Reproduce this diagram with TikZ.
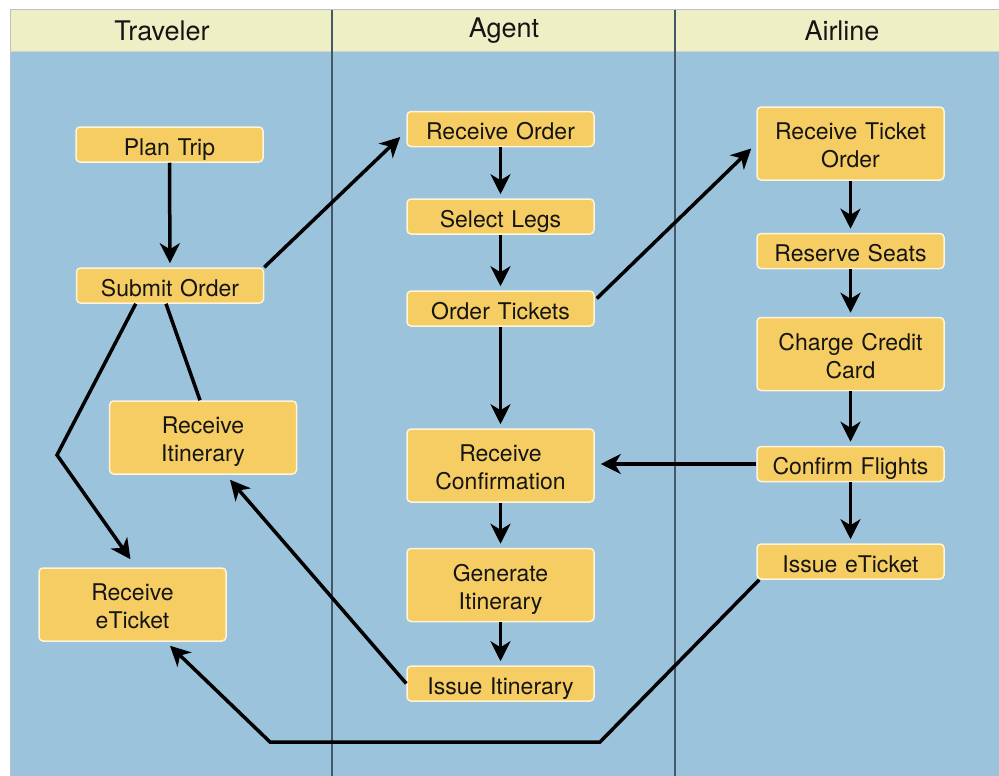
\documentclass[tikz,border=0pt]{standalone}
\usepackage{fontspec}
\setmainfont{TeX Gyre Heros}
\usetikzlibrary{arrows.meta,calc}
\definecolor{hdr}{HTML}{EEEFC4}
\definecolor{lane}{HTML}{9CC3DC}
\definecolor{boxfill}{HTML}{F6CD62}
\definecolor{boxline}{HTML}{FFF4D8}
\definecolor{divider}{HTML}{44586A}
\definecolor{txt}{HTML}{151515}
\tikzset{
  basebox/.style={rectangle, rounded corners=4pt, fill=boxfill, draw=boxline, line width=1.5pt,
    minimum width=187pt, text width=182pt, align=center, inner sep=2pt,
    text=txt, font=\fontsize{23}{28}\selectfont},
  stepbox/.style={basebox, minimum height=35pt, text height=24pt, text depth=3pt},
  tallbox/.style={basebox, minimum height=73pt, text height=23pt, text depth=31pt},
  arr/.style={line width=3.5pt, draw=black, -{Stealth[length=20pt,width=20pt,inset=6pt]}},
  plain/.style={line width=3.5pt, draw=black},
  lanehead/.style={font=\fontsize{27}{30}\selectfont, text=txt, inner sep=0pt}
}
\begin{document}
\begin{tikzpicture}[x=1pt,y=-1pt]
\useasboundingbox (0,0) rectangle (999,776);
% lanes
\fill[hdr] (10,10) rectangle (999,52);
\fill[lane] (10,52) rectangle (999,776);
\draw[line width=1pt, color=black!25] (10,776) -- (10,10) -- (999,10);
\draw[line width=1pt, color=black!18] (10,52) -- (999,52);
\draw[line width=2.5pt, divider] (332,10) -- (332,776);
\draw[line width=2.5pt, divider] (675,10) -- (675,776);
\node[lanehead] (hT) at (162,31) {Traveler};
\node[lanehead] (hA) at (504,31) {Agent};
\node[lanehead] (hL) at (842,31) {Airline};
% Traveler
\node[stepbox] (plan) at (169.5,144.5) {Plan Trip};
\node[stepbox] (submit) at (170,285.5) {Submit Order};
\node[tallbox] (itin) at (203,437.5) {Receive\\Itinerary};
\node[tallbox] (eticket) at (132.5,604.5) {Receive\\eTicket};
% Agent
\node[stepbox] (recvorder) at (500.5,129) {Receive Order};
\node[stepbox] (legs) at (500.5,216.5) {Select Legs};
\node[stepbox] (ordertix) at (500.5,308.5) {Order Tickets};
\node[tallbox] (recvconf) at (500.5,465.5) {Receive\\Confirmation};
\node[tallbox] (geniti) at (500.5,585) {Generate\\Itinerary};
\node[stepbox] (issueiti) at (500.5,683.5) {Issue Itinerary};
% Airline
\node[tallbox] (rto) at (850.5,143.5) {Receive Ticket\\Order};
\node[stepbox] (seats) at (850.5,251) {Reserve Seats};
\node[tallbox] (charge) at (850.5,354) {Charge Credit\\Card};
\node[stepbox] (confirm) at (850.5,464) {Confirm Flights};
\node[stepbox] (issueet) at (850.5,561.5) {Issue eTicket};
% connectors
\coordinate (bendL) at (57,455);
\coordinate (botL) at (270,742);
\coordinate (botR) at (600,742);
\draw[arr, shorten >=4pt] (plan) -- (submit);
\draw[arr] (submit.north east) -- ($(recvorder.west)+(-6,8)$);
\draw[arr] ($(submit.south west)+(60,0)$) -- (bendL) -- ($(eticket.north)+(-2,-8)$);
\draw[plain] ($(submit.south)+(-4,0)$) -- ($(itin.north)+(-3,0)$);
\draw[arr] (issueiti.west) -- ($(itin.south)+(27,5)$);
\draw[arr, shorten >=4pt] (recvorder) -- (legs);
\draw[arr, shorten >=4pt] (legs) -- (ordertix);
\draw[arr, shorten >=4pt] (ordertix) -- (recvconf);
\draw[arr, shorten >=4pt] (recvconf) -- (geniti);
\draw[arr, shorten >=4pt] (geniti) -- (issueiti);
\draw[arr] ($(ordertix.east)+(2,-10)$) -- ($(rto.west)+(-5,5)$);
\draw[arr, shorten >=4pt] (rto) -- (seats);
\draw[arr, shorten >=4pt] (seats) -- (charge);
\draw[arr, shorten >=4pt] (charge) -- (confirm);
\draw[arr, shorten >=4pt] (confirm) -- (issueet);
\draw[arr] (confirm.west) -- ($(recvconf.east |- confirm.west)+(6,0)$);
\draw[arr] ($(issueet.south west)+(3,0)$) -- (botR) -- (botL) -- ($(eticket.south)+(37.5,4)$);
\end{tikzpicture}
\end{document}
